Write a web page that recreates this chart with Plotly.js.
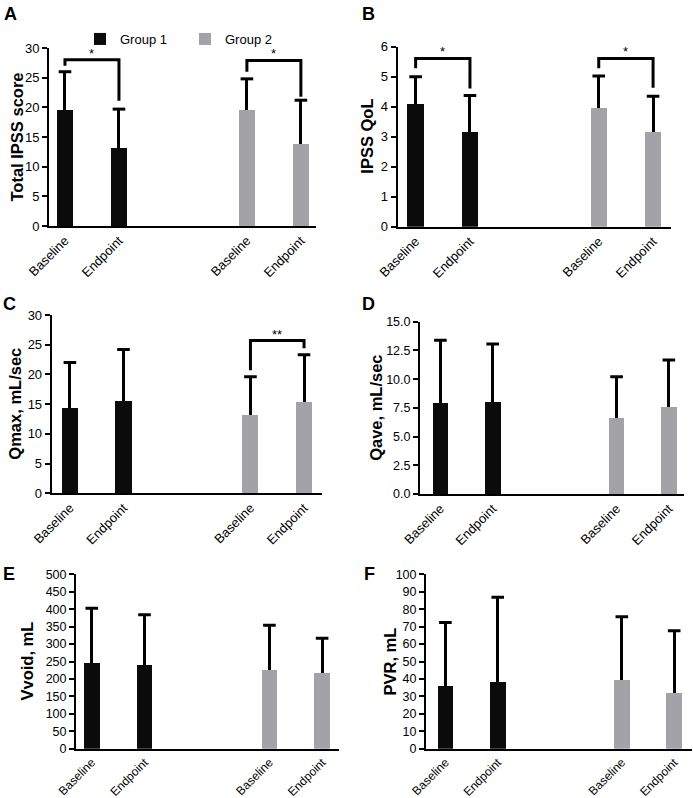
<!DOCTYPE html>
<html><head><meta charset="utf-8">
<script src="https://cdn.plot.ly/plotly-3.0.1.min.js"></script>
<style>html,body{margin:0;padding:0;background:#fff}#chart{width:693px;height:798px}</style>
</head><body><div id="chart"></div>
<script>
// ---------- data ----------
const categories = ['Baseline', 'Endpoint', 'Baseline', 'Endpoint'];
const groupNames = ['Group 1', 'Group 2'];

const ipssMean  = [19.5, 13.2, 19.6, 13.8];
const ipssSD    = [6.5, 6.5, 5.2, 7.4];
const qolMean   = [4.08, 3.15, 3.97, 3.15];
const qolSD     = [0.92, 1.22, 1.05, 1.20];
const qmaxMean  = [14.3, 15.6, 13.1, 15.4];
const qmaxSD    = [7.7, 8.6, 6.5, 7.9];
const qaveMean  = [7.89, 7.98, 6.59, 7.57];
const qaveSD    = [5.50, 5.07, 3.61, 4.09];
const vvoidMean = [246, 240, 227, 216];
const vvoidSD   = [157, 144, 127, 101];
const pvrMean   = [36.1, 38.4, 39.2, 31.7];
const pvrSD     = [36.2, 48.4, 36.5, 36.0];

// significance brackets: bars joined, leg ends, bar level, label
const ipssBrackets = [
  {bars: [0, 1], ends: [27.0, 21.1], level: 28.0, label: '*'},
  {bars: [2, 3], ends: [26.0, 21.8], level: 27.9, label: '*'}
];
const qolBrackets = [
  {bars: [0, 1], ends: [5.28, 4.61], level: 5.61, label: '*'},
  {bars: [2, 3], ends: [5.28, 4.63], level: 5.61, label: '*'}
];
const qmaxBrackets = [
  {bars: [2, 3], ends: [20.7, 24.4], level: 25.7, label: '**'}
];

// ---------- layout helpers ----------
const W = 693, H = 798;
const xpos = [0, 1, 3.37, 4.37];
const colors = ['#0b0b0b', '#a3a3a7'];
const FONT = 'Arial, "Liberation Sans", Helvetica, sans-serif';

const panels = [
  {letter: 'A', title: 'Total IPSS score', mean: ipssMean, sd: ipssSD, ymax: 30, dtick: 5, fmt: '', br: ipssBrackets,
   px: [49, 316], py: [48, 226], xr: [-0.296, 4.65], lp: [2, 2], tf: 13, xf: 13, tx: 16.5},
  {letter: 'B', title: 'IPSS QoL', mean: qolMean, sd: qolSD, ymax: 6, dtick: 1, fmt: '', br: qolBrackets,
   px: [397.7, 671], py: [46.7, 226.7], xr: [-0.33, 4.70], lp: [360, 2], tf: 13, xf: 13, tx: 367},
  {letter: 'C', title: 'Qmax, mL/sec', mean: qmaxMean, sd: qmaxSD, ymax: 30, dtick: 5, fmt: '', br: qmaxBrackets,
   px: [51.7, 321.7], py: [315, 493.3], xr: [-0.34, 4.70], lp: [1, 292], tf: 13, xf: 13, tx: 15.5},
  {letter: 'D', title: 'Qave, mL/sec', mean: qaveMean, sd: qaveSD, ymax: 15, dtick: 2.5, fmt: '.1f', br: [],
   px: [420, 684], py: [321.7, 494], xr: [-0.39, 4.66], lp: [360, 292], tf: 12.5, xf: 13, tx: 376},
  {letter: 'E', title: 'Vvoid, mL', mean: vvoidMean, sd: vvoidSD, ymax: 500, dtick: 50, fmt: '', br: [],
   px: [76, 339], py: [574.3, 748.7], xr: [-0.30, 4.69], lp: [1, 562], tf: 12.5, xf: 12, tx: 26},
  {letter: 'F', title: 'PVR, mL', mean: pvrMean, sd: pvrSD, ymax: 100, dtick: 10, fmt: '', br: [],
   px: [426, 692], py: [574.3, 748.7], xr: [-0.37, 4.71], lp: [362, 562], tf: 12.5, xf: 12, tx: 389}
];

const data = [];
const layout = {
  width: W, height: H,
  margin: {l: 0, r: 0, t: 0, b: 0},
  paper_bgcolor: '#fff', plot_bgcolor: '#fff',
  font: {family: FONT, color: '#000', size: 13},
  showlegend: true,
  bargap: 0,
  legend: {orientation: 'h', x: 80 / W, y: 1 - 24 / H, xanchor: 'left', yanchor: 'top',
           font: {size: 13, family: FONT}, entrywidth: 60, entrywidthmode: 'pixels', traceorder: 'normal'},
  annotations: [],
  shapes: []
};

panels.forEach((p, i) => {
  const n = i === 0 ? '' : String(i + 1);
  const xa = 'x' + n, ya = 'y' + n;
  [0, 1].forEach(g => {
    const idx = [2 * g, 2 * g + 1];
    data.push({
      type: 'bar',
      name: groupNames[g],
      legendgroup: groupNames[g],
      showlegend: i === 0,
      x: idx.map(k => xpos[k]),
      y: idx.map(k => p.mean[k]),
      width: 0.3,
      marker: {color: colors[g], line: {width: 0}},
      error_y: {type: 'data', symmetric: false, array: idx.map(k => p.sd[k]), arrayminus: [0, 0],
                color: '#000', thickness: 3, width: 0},
      xaxis: xa, yaxis: ya, hoverinfo: 'skip'
    });
  });
  // error bar caps (upper only)
  data.push({
    type: 'scatter', mode: 'markers', showlegend: false, hoverinfo: 'skip',
    x: xpos, y: p.mean.map((m, k) => m + p.sd[k]),
    marker: {symbol: 'line-ew', size: 9, line: {width: 3, color: '#000'}},
    xaxis: xa, yaxis: ya
  });
  p.br.forEach(b => {
    const x0 = xpos[b.bars[0]], x1 = xpos[b.bars[1]];
    data.push({
      type: 'scatter', mode: 'lines', showlegend: false, hoverinfo: 'skip',
      x: [x0, x0, x1, x1], y: [b.ends[0], b.level, b.level, b.ends[1]],
      line: {color: '#000', width: 3}, xaxis: xa, yaxis: ya
    });
    layout.annotations.push({
      xref: xa, yref: ya, x: (x0 + x1) / 2, y: b.level, yanchor: 'bottom', yshift: -3,
      text: b.label, showarrow: false, font: {size: 13, family: FONT}
    });
  });
  layout['xaxis' + n] = {
    domain: [p.px[0] / W, p.px[1] / W], range: p.xr, anchor: ya,
    showgrid: false, zeroline: false, showline: true, linecolor: '#000', linewidth: 2,
    ticks: '', tickvals: xpos, ticktext: categories, tickangle: -45,
    tickfont: {size: p.xf, family: FONT}, fixedrange: true
  };
  layout['yaxis' + n] = {
    domain: [1 - p.py[1] / H, 1 - p.py[0] / H], range: [0, p.ymax], anchor: xa,
    showgrid: false, zeroline: false, showline: true, linecolor: '#000', linewidth: 2,
    ticks: 'outside', ticklen: 5, tickwidth: 2, tickcolor: '#000',
    dtick: p.dtick, tick0: 0, tickformat: p.fmt,
    tickfont: {size: p.tf, family: FONT},
    fixedrange: true
  };
  // y-axis title
  layout.annotations.push({
    xref: 'paper', yref: 'paper', x: p.tx / W, y: 1 - (p.py[0] + p.py[1]) / 2 / H,
    xanchor: 'center', yanchor: 'middle', textangle: -90,
    text: '<b>' + p.title + '</b>', showarrow: false, font: {size: 16.5, family: FONT}
  });
  // panel letter
  layout.annotations.push({
    xref: 'paper', yref: 'paper', x: p.lp[0] / W, y: 1 - p.lp[1] / H, xanchor: 'left', yanchor: 'top',
    text: '<b>' + p.letter + '</b>', showarrow: false, font: {size: 18, family: FONT}
  });
});

Plotly.newPlot('chart', data, layout, {displayModeBar: false, staticPlot: true});
</script>
</body></html>
